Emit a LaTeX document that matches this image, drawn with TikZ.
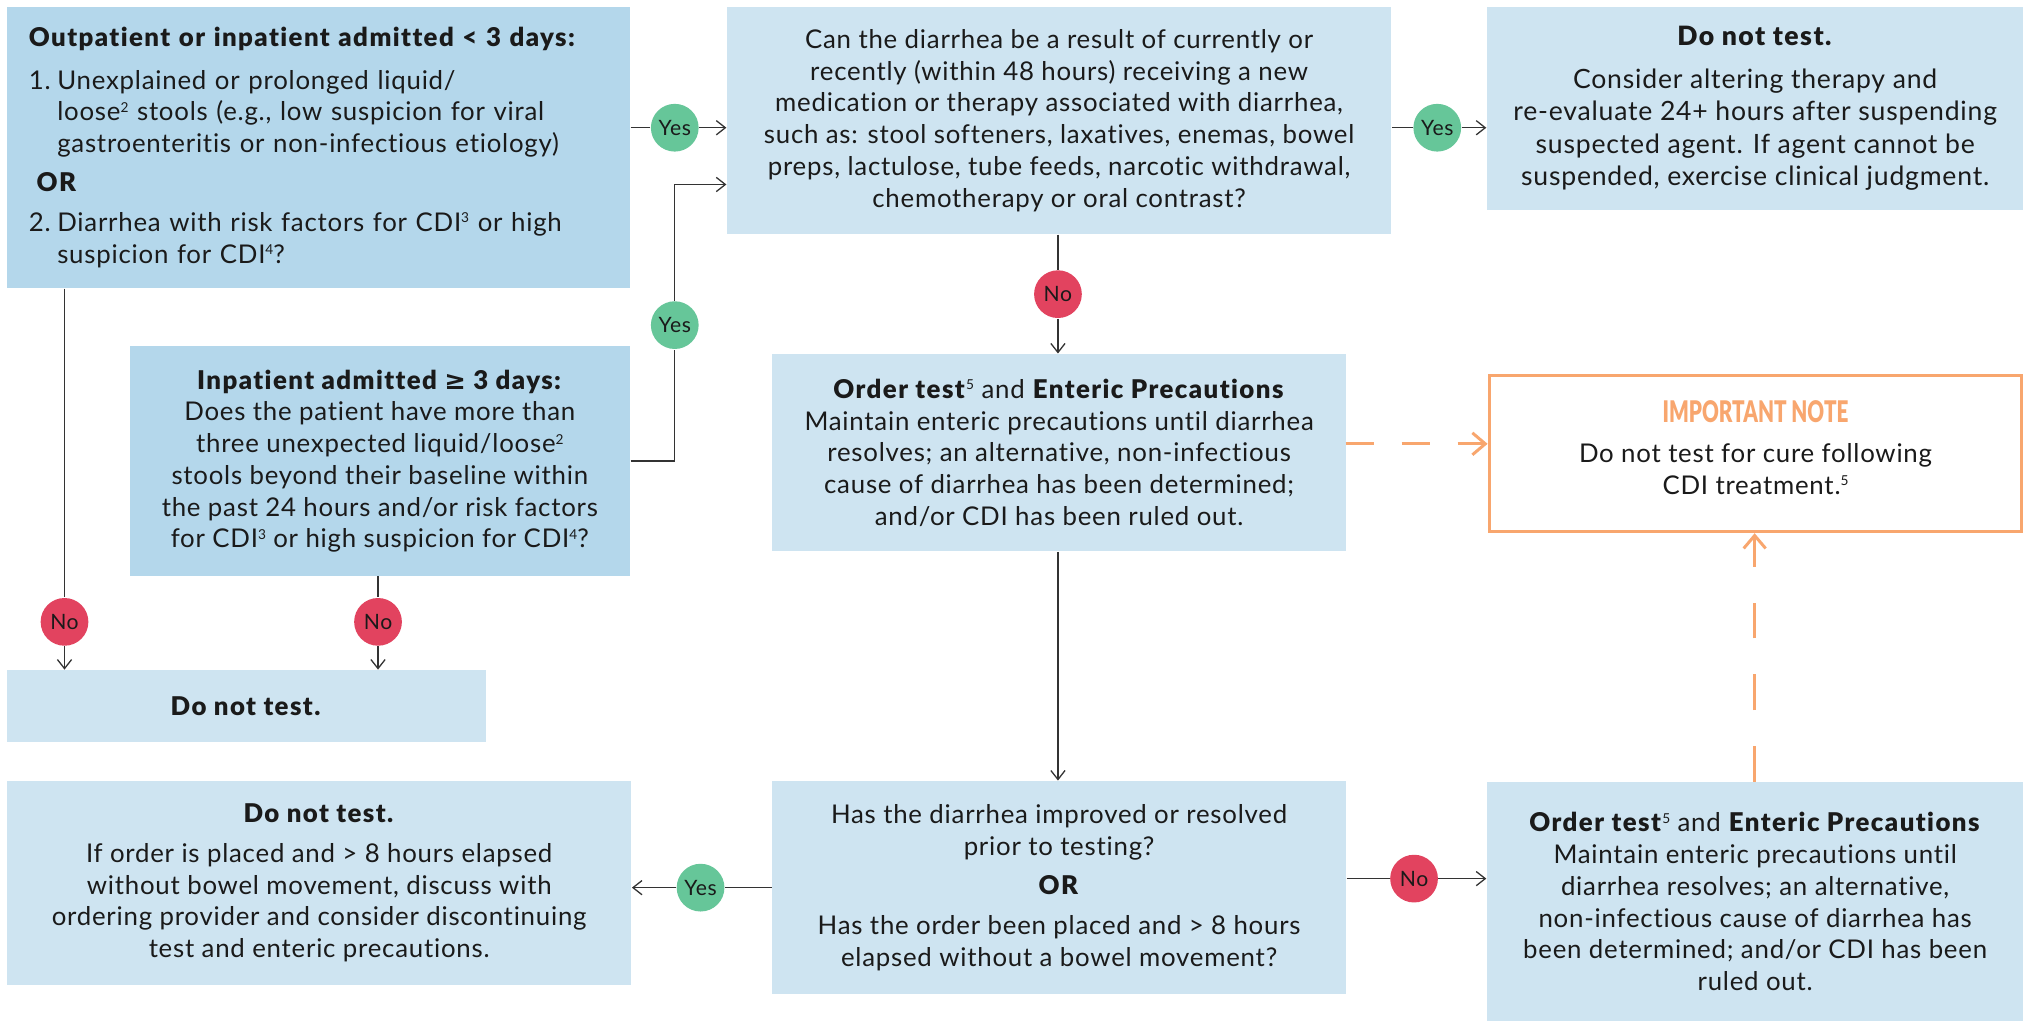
\documentclass[tikz,border=0pt]{standalone}
\usepackage{fontspec}
\setmainfont{Lato}[LetterSpace=3, Ligatures=NoCommon, BoldFont={Lato Black}, BoldFeatures={LetterSpace=5.5}]
\newfontfamily\symf{DejaVu Sans}
\newfontfamily\notefont{Lato Black}
\usetikzlibrary{arrows.meta,calc}
\definecolor{bluedark}{HTML}{B4D7EB}
\definecolor{bluelight}{HTML}{CEE4F1}
\definecolor{yesgreen}{HTML}{66C699}
\definecolor{nored}{HTML}{E2435F}
\definecolor{noteorange}{HTML}{F8A66E}
\definecolor{txt}{HTML}{1A1A1A}
\definecolor{linec}{HTML}{333333}
\tikzset{
  every node/.style={font=\fontsize{10}{12.3}\selectfont, text=txt},
  boxbase/.style={rectangle, inner sep=0pt, anchor=north west, align=center},
  boxdark/.style={boxbase, fill=bluedark},
  boxlight/.style={boxbase, fill=bluelight},
  notebox/.style={boxbase, draw=noteorange, line width=1.15pt, fill=white},
  yesc/.style={circle, fill=yesgreen, minimum size=18.5pt, inner sep=0pt, font=\fontsize{8.2}{9}\selectfont},
  noc/.style={circle, fill=nored, minimum size=18.5pt, inner sep=0pt, font=\fontsize{8.2}{9}\selectfont},
  conn/.style={draw=linec, line width=0.5pt},
  arr/.style={conn, -{Straight Barb[length=3.5pt,width=5.5pt]}},
  otip/.style={-{Straight Barb[length=5pt,width=8.5pt,line width=1.15pt]}},
  odashh/.style={draw=noteorange, line width=1.15pt, dash pattern=on 10.85pt off 10.85pt, otip},
  odashv/.style={draw=noteorange, line width=1.15pt, dash pattern=on 13.9pt off 13.9pt, otip},
}
\newcommand{\sups}[1]{\raisebox{3.3pt}{\fontsize{5.3}{5}\selectfont\mdseries #1}}
\begin{document}
\begin{tikzpicture}[x=0.5pt,y=-0.5pt]
\useasboundingbox (0,0) rectangle (1568,791);
\fill[white] (0,0) rectangle (1568,791);

% Box A
\node[boxdark, align=left, inner xsep=8.5pt, text width=224.5pt, minimum height=109pt] (A) at (5,5) {%
\textbf{Outpatient or inpatient admitted < 3 days:}\\[4pt]
\makebox[11pt][l]{1.}Unexplained or prolonged liquid/\\
\hspace*{11pt}loose\sups{2} stools (e.g., low suspicion for viral\\
\hspace*{11pt}gastroenteritis or non-infectious etiology)\\[3pt]
\hspace*{3pt}\textbf{OR}\\[3pt]
\makebox[11pt][l]{2.}Diarrhea with risk factors for CDI\sups{3} or high\\
\hspace*{11pt}suspicion for CDI\sups{4}?};

% Box B
\node[boxlight, minimum width=257.5pt, minimum height=88pt] (B) at (563,5) {%
Can the diarrhea be a result of currently or\\
recently (within 48 hours) receiving a new\\
medication or therapy associated with diarrhea,\\
such as: stool softeners, laxatives, enemas, bowel\\
preps, lactulose, tube feeds, narcotic withdrawal,\\
chemotherapy or oral contrast?};

% Box C
\node[boxlight, minimum width=208pt, minimum height=78.5pt, font=\fontsize{10.3}{12.6}\selectfont] (C) at (1152,5) {%
\textbf{Do not test.}\\[4.2pt]
Consider altering therapy and\\
re-evaluate 24+ hours after suspending\\
suspected agent. If agent cannot be\\
suspended, exercise clinical judgment.};

% Inpatient box
\node[boxdark, minimum width=194pt, minimum height=89pt] (P) at (100,268) {%
\textbf{Inpatient admitted {\symf\bfseries ≥} 3 days:}\\
Does the patient have more than\\
three unexpected liquid/loose\sups{2}\\
stools beyond their baseline within\\
the past 24 hours and/or risk factors\\
for CDI\sups{3} or high suspicion for CDI\sups{4}?};

% Box D
\node[boxlight, minimum width=222.5pt, minimum height=76.5pt] (D) at (598,274) {%
\textbf{Order test}\sups{5} and \textbf{Enteric Precautions}\\
Maintain enteric precautions until diarrhea\\
resolves; an alternative, non-infectious\\
cause of diarrhea has been determined;\\
and/or CDI has been ruled out.};

% Box E (note)
\node[notebox, minimum width=206.5pt, minimum height=60.5pt] (E) at (1153,290) {%
{\color{noteorange}\resizebox{72pt}{8.5pt}{\notefont IMPORTANT NOTE}}\\[3.2pt]
Do not test for cure following\\
CDI treatment.\sups{5}\\[-7.5pt]\mbox{}};

% Box F
\node[boxlight, minimum width=185.5pt, minimum height=28pt] (F) at (5,519) {\textbf{Do not test.}};

% Box G
\node[boxlight, minimum width=242pt, minimum height=79pt] (G) at (5,605) {%
\textbf{Do not test.}\\[3pt]
If order is placed and > 8 hours elapsed\\
without bowel movement, discuss with\\
ordering provider and consider discontinuing\\
test and enteric precautions.};

% Box H
\node[boxlight, minimum width=222.5pt, minimum height=82.5pt] (H) at (598,605) {%
Has the diarrhea improved or resolved\\
prior to testing?\\[3pt]
\textbf{OR}\\[3pt]
Has the order been placed and > 8 hours\\
elapsed without a bowel movement?};

% Box I
\node[boxlight, minimum width=208pt, minimum height=92.5pt] (I) at (1152,606) {%
\textbf{Order test}\sups{5} and \textbf{Enteric Precautions}\\
Maintain enteric precautions until\\
diarrhea resolves; an alternative,\\
non-infectious cause of diarrhea has\\
been determined; and/or CDI has been\\
ruled out.};

% decision circles
\node[yesc] (yes1) at (523,99) {Yes};
\node[yesc] (yes2) at (523,252) {Yes};
\node[yesc] (yes3) at (1114,99) {Yes};
\node[yesc] (yes4) at (543,688) {Yes};
\node[noc] (no1) at (50,482) {No};
\node[noc] (no2) at (293,482) {No};
\node[noc] (no3) at (820,228) {No};
\node[noc] (no4) at (1096,681) {No};

\coordinate (b2) at (563,143);
\coordinate (de) at (1043,344);
\coordinate (ie) at (1360,606);

% connectors
\draw[conn] (A.east |- yes1) -- (yes1);
\draw[arr] (yes1) -- (B.west |- yes1);
\draw[conn] (P.east) -| (yes2);
\draw[arr] (yes2) |- (b2);
\draw[conn] (A.south -| no1) -- (no1);
\draw[arr] (no1) -- (F.north -| no1);
\draw[conn] (P.south -| no2) -- (no2);
\draw[arr] (no2) -- (F.north -| no2);
\draw[conn] (B.east |- yes3) -- (yes3);
\draw[arr] (yes3) -- (C.west |- yes3);
\draw[conn] (B.south -| no3) -- (no3);
\draw[arr] (no3) -- (D.north -| no3);
\draw[arr] (D.south -| no3) -- (H.north -| no3);
\draw[conn] (H.west |- yes4) -- (yes4);
\draw[arr] (yes4) -- (G.east |- yes4);
\draw[conn] (H.east |- no4) -- (no4);
\draw[arr] (no4) -- (I.west |- no4);
\draw[odashh] (de) -- (de -| E.west);
\draw[odashv] (ie) -- (ie |- E.south);
\end{tikzpicture}
\end{document}
